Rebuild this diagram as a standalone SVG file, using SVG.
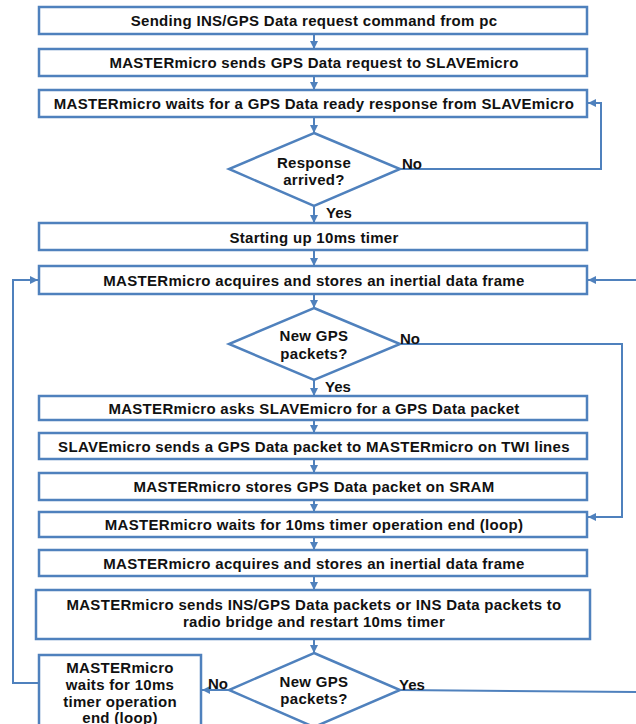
<svg xmlns="http://www.w3.org/2000/svg" width="636" height="724" viewBox="0 0 636 724">
<style>
.box{fill:#fff;stroke:#4F81BD;stroke-width:2.5}
.t{font-family:"Liberation Sans",Arial,sans-serif;font-weight:bold;font-size:15px;letter-spacing:0.3px;fill:#111;text-anchor:middle;dominant-baseline:central}
.l{font-family:"Liberation Sans",Arial,sans-serif;font-weight:bold;font-size:15px;fill:#111;dominant-baseline:central}
.c{fill:none;stroke:#4F81BD;stroke-width:2}
</style>
<defs>
<marker id="a" viewBox="0 0 10 10" refX="10" refY="5" markerWidth="4" markerHeight="4" orient="auto"><path d="M0,0 L10,5 L0,10 z" fill="#4F81BD"/></marker>
</defs>
<rect width="636" height="724" fill="#fff"/>
<g id="connectors">
<path class="c" d="M314,34 V49" marker-end="url(#a)"/>
<path class="c" d="M314,76 V90" marker-end="url(#a)"/>
<path class="c" d="M314,117 V133" marker-end="url(#a)"/>
<path class="c" d="M400,169 H601 V103 H588" marker-end="url(#a)"/>
<path class="c" d="M314,206 V223" marker-end="url(#a)"/>
<path class="c" d="M314,250 V266" marker-end="url(#a)"/>
<path class="c" d="M636,280 H588" marker-end="url(#a)"/>
<path class="c" d="M314,294 V308" marker-end="url(#a)"/>
<path class="c" d="M400,344 H622 V517 H588" marker-end="url(#a)"/>
<path class="c" d="M314,380 V396" marker-end="url(#a)"/>
<path class="c" d="M314,420 V433" marker-end="url(#a)"/>
<path class="c" d="M314,459 V473" marker-end="url(#a)"/>
<path class="c" d="M314,500 V512" marker-end="url(#a)"/>
<path class="c" d="M314,537 V550" marker-end="url(#a)"/>
<path class="c" d="M314,576 V590" marker-end="url(#a)"/>
<path class="c" d="M314,639 V653" marker-end="url(#a)"/>
<path class="c" d="M229,690 H202" marker-end="url(#a)"/>
<path class="c" d="M400,690 L636,692"/>
<path class="c" d="M39,683 H13 V280 H38" marker-end="url(#a)"/>
</g>
<g id="n1"><rect class="box" x="39" y="7" width="548" height="27"/><text class="t" x="314" y="20">Sending  INS/GPS Data request command from pc</text></g>
<g id="n2"><rect class="box" x="39" y="49" width="548" height="27"/><text class="t" x="314" y="62">MASTERmicro sends GPS Data request to SLAVEmicro</text></g>
<g id="n3"><rect class="box" x="39" y="90" width="548" height="27"/><text class="t" x="314" y="103">MASTERmicro waits for a GPS Data ready response from SLAVEmicro</text></g>
<g id="d1"><polygon class="box" points="314,133 400,169 314,206 229,169"/><text class="t" x="314" y="162">Response</text><text class="t" x="314" y="179">arrived?</text><text class="l" x="402" y="163">No</text><text class="l" x="326" y="212">Yes</text></g>
<g id="n4"><rect class="box" x="39" y="223" width="548" height="27"/><text class="t" x="314" y="237">Starting  up 10ms timer</text></g>
<g id="n5"><rect class="box" x="39" y="266" width="548" height="28"/><text class="t" x="314" y="280">MASTERmicro acquires and stores an inertial data frame</text></g>
<g id="d2"><polygon class="box" points="314,308 400,344 314,380 229,344"/><text class="t" x="314" y="335">New GPS</text><text class="t" x="314" y="353">packets?</text><text class="l" x="400" y="338">No</text><text class="l" x="325" y="386">Yes</text></g>
<g id="n6"><rect class="box" x="39" y="396" width="548" height="24"/><text class="t" x="314" y="408">MASTERmicro asks SLAVEmicro for a GPS Data packet</text></g>
<g id="n7"><rect class="box" x="39" y="433" width="548" height="26"/><text class="t" x="314" y="446">SLAVEmicro sends a GPS Data packet to MASTERmicro on TWI lines</text></g>
<g id="n8"><rect class="box" x="39" y="473" width="548" height="27"/><text class="t" x="314" y="486">MASTERmicro stores GPS Data packet on SRAM</text></g>
<g id="n9"><rect class="box" x="39" y="512" width="548" height="25"/><text class="t" x="314" y="524">MASTERmicro waits for 10ms timer operation end (loop)</text></g>
<g id="n10"><rect class="box" x="39" y="550" width="548" height="26"/><text class="t" x="314" y="563">MASTERmicro acquires and stores an inertial data frame</text></g>
<g id="n11"><rect class="box" x="36" y="590" width="554" height="49"/><text class="t" x="314" y="604">MASTERmicro sends INS/GPS Data packets or INS Data packets to</text><text class="t" x="314" y="621">radio bridge and restart 10ms timer</text></g>
<g id="d3"><polygon class="box" points="314,653 400,690 314,727 229,690"/><text class="t" x="314" y="681">New GPS</text><text class="t" x="314" y="698">packets?</text><text class="l" x="208" y="683">No</text><text class="l" x="399" y="684">Yes</text></g>
<g id="n12"><rect class="box" x="39" y="655" width="162" height="75"/><text class="t" x="120" y="667">MASTERmicro</text><text class="t" x="120" y="684">waits for 10ms</text><text class="t" x="120" y="701">timer operation</text><text class="t" x="120" y="717">end (loop)</text></g>
</svg>
